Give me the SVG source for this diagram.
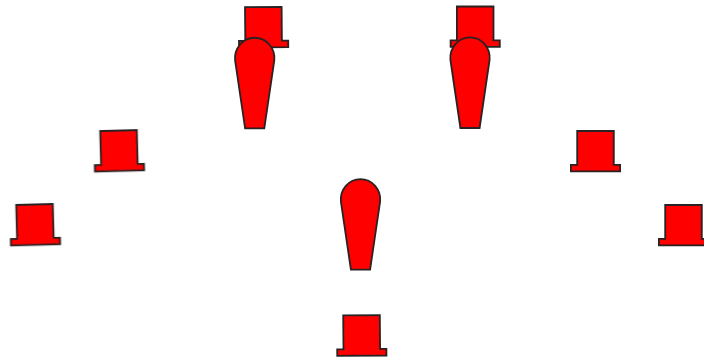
<svg xmlns="http://www.w3.org/2000/svg" width="704" height="361" viewBox="0 0 704 361">
<style>
.s{fill:#ff0000;stroke:#2a2222;stroke-width:1.8;stroke-linejoin:miter}
</style>
<defs>
<filter id="b" x="-10%" y="-10%" width="120%" height="120%"><feGaussianBlur stdDeviation="0.35"/></filter>
<path id="hat" class="s" d="M-18.3,0H18.3V33.8H24.6V40.4H-24.6V33.8H-18.3Z"/>
<path id="pin" class="s" d="M-9.6,90.5L-19.6,22.5A19.7,20.5 0 1 1 19.6,22.5L9.6,90.5Z"/>
</defs>
<rect width="704" height="361" fill="#ffffff"/>
<g filter="url(#b)">
<g id="hat-top-left"><use href="#hat" transform="translate(263.3,7) rotate(-0.5)"/></g>
<g id="hat-top-right"><use href="#hat" transform="translate(475.2,6.5)"/></g>
<g id="hat-mid-left"><use href="#hat" transform="translate(118.5,130.6) rotate(-1.5)"/></g>
<g id="hat-mid-right"><use href="#hat" transform="translate(595.5,131)"/></g>
<g id="hat-low-left"><use href="#hat" transform="translate(34.5,204.5) rotate(-1.5)"/></g>
<g id="hat-low-right"><use href="#hat" transform="translate(683.5,205)"/></g>
<g id="hat-bottom"><use href="#hat" transform="translate(361.5,315.3) rotate(-0.5)"/></g>
<g id="pin-left"><use href="#pin" transform="translate(254.7,37.8)"/></g>
<g id="pin-right"><use href="#pin" transform="translate(470,37.5)"/></g>
<g id="pin-bottom"><use href="#pin" transform="translate(360.5,179.2)"/></g>
</g>
<g id="connectors"/>
</svg>
